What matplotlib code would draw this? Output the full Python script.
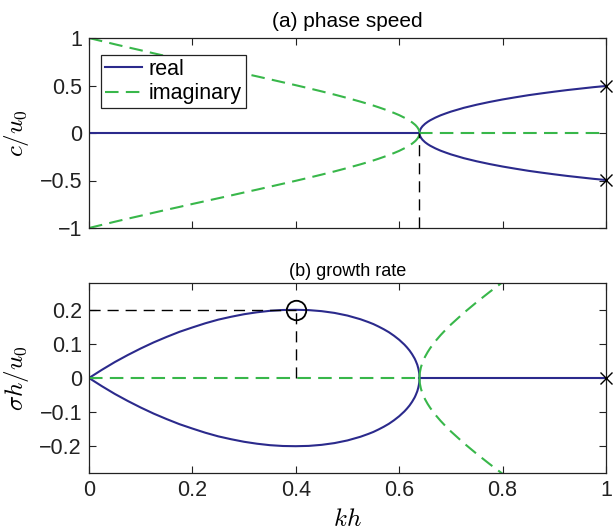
import matplotlib
matplotlib.use("Agg")
import matplotlib.pyplot as plt

plt.rcParams['font.family'] = ['Liberation Sans', 'DejaVu Sans']
plt.rcParams['mathtext.fontset'] = 'cm'

# unstable branch (kh below critical)
kh_u = [0, 0.025, 0.05, 0.075, 0.1, 0.125, 0.15, 0.175, 0.2, 0.225,
        0.25, 0.275, 0.3, 0.325, 0.35, 0.375, 0.4, 0.425, 0.45, 0.475,
        0.5, 0.525, 0.54, 0.55, 0.56, 0.57, 0.58, 0.59, 0.6, 0.61,
        0.615, 0.62, 0.625, 0.63, 0.632, 0.635, 0.637, 0.638, 0.6388, 0.639,
        0.6392]
ci_u = [1.0, 0.967, 0.934, 0.902, 0.871, 0.839, 0.808, 0.778, 0.747, 0.717,
        0.687, 0.657, 0.626, 0.596, 0.565, 0.534, 0.503, 0.471, 0.438, 0.404,
        0.368, 0.330, 0.306, 0.289, 0.271, 0.252, 0.232, 0.211, 0.188, 0.161,
        0.147, 0.130, 0.112, 0.090, 0.080, 0.061, 0.044, 0.033, 0.019, 0.014,
        0.0]
sig_u = [0.0, 0.0242, 0.047, 0.0677, 0.087, 0.1049, 0.121, 0.1361, 0.149, 0.1613,
         0.172, 0.1805, 0.188, 0.1937, 0.198, 0.2004, 0.201, 0.2001, 0.197, 0.1918,
         0.184, 0.1732, 0.1650, 0.159, 0.1517, 0.1438, 0.135, 0.1245, 0.1126, 0.0985,
         0.0902, 0.081, 0.070, 0.057, 0.0503, 0.039, 0.028, 0.0209, 0.0124, 0.009,
         0.0]

# stable branch (kh above critical)
kh_s = [0.6392, 0.6395, 0.6398, 0.64, 0.642, 0.645, 0.65, 0.655, 0.66, 0.67,
        0.68, 0.69, 0.7, 0.725, 0.75, 0.775, 0.8, 0.825, 0.85, 0.875,
        0.9, 0.925, 0.95, 0.975, 1.0]
cr_s = [0.0, 0.015, 0.022, 0.026, 0.049, 0.071, 0.097, 0.117, 0.134, 0.162,
        0.186, 0.206, 0.225, 0.265, 0.298, 0.327, 0.353, 0.376, 0.398, 0.417,
        0.435, 0.452, 0.467, 0.482, 0.495]
sigi_s = [0.0, 0.0098, 0.0142, 0.0166, 0.0315, 0.0456, 0.0627, 0.0763, 0.0881, 0.1085,
          0.1262, 0.1424, 0.1575, 0.1920, 0.2237, 0.2537, 0.2825, 0.3105, 0.3379, 0.3648,
          0.3914, 0.4177, 0.4437, 0.4696, 0.4955]

kh_crit = 0.6392
kh_max = 0.4
sig_max = 0.2

blue = '#2b2a8c'
green = '#38b74a'
lw = 1.5
dash = (0, (6.5, 3.5))
kdash = (0, (8, 5))
klw = 1.0

fig = plt.figure(figsize=(6.13, 5.32), dpi=100)
L, R = 89, 606
ax1 = fig.add_axes([L/613, 1 - 228/532, (R - L)/613, 190/532])
ax2 = fig.add_axes([L/613, 1 - 473/532, (R - L)/613, 190/532])

neg = lambda a: [-v for v in a]

# (a)
ax1.plot([0, kh_crit], [0, 0], color=blue, lw=lw, label='real')
ax1.plot(kh_s, cr_s, color=blue, lw=lw)
ax1.plot(kh_s, neg(cr_s), color=blue, lw=lw)
ax1.plot(kh_u, ci_u, color=green, lw=lw, ls=dash, label='imaginary')
ax1.plot(kh_u, neg(ci_u), color=green, lw=lw, ls=dash)
ax1.plot([kh_crit, 1], [0, 0], color=green, lw=lw, ls=dash)
ax1.plot([kh_crit, kh_crit], [-1, 0], color='k', lw=klw, ls=kdash)
ax1.plot([1, 1], [cr_s[-1], -cr_s[-1]], ls='none', marker='x', color='k',
         ms=9, mew=1.0, clip_on=False, zorder=5)
ax1.set_xlim(0, 1)
ax1.set_ylim(-1, 1)
ax1.set_yticks([-1, -0.5, 0, 0.5, 1])
ax1.set_yticklabels(['\u22121', '\u22120.5', '0', '0.5', '1'])
ax1.set_xticks([0, 0.2, 0.4, 0.6, 0.8, 1])
ax1.set_xticklabels([])
ax1.set_ylabel('$c/u_0$', fontsize=18, labelpad=6)
ax1.set_title('(a) phase speed', fontsize=15, pad=8)
leg = ax1.legend(loc='upper left', bbox_to_anchor=(0.0, 0.975), fontsize=15.5,
                 fancybox=False, framealpha=1, edgecolor='#222222', handlelength=1.7,
                 borderpad=0.2, labelspacing=0.15, handletextpad=0.3,
                 borderaxespad=0.55)
leg.get_frame().set_linewidth(0.9)

# (b)
ax2.plot(kh_u, sig_u, color=blue, lw=lw)
ax2.plot(kh_u, neg(sig_u), color=blue, lw=lw)
ax2.plot([kh_crit, 1], [0, 0], color=blue, lw=lw)
ax2.plot([0, kh_crit], [0, 0], color=green, lw=lw, ls=dash)
ax2.plot(kh_s, sigi_s, color=green, lw=lw, ls=dash)
ax2.plot(kh_s, neg(sigi_s), color=green, lw=lw, ls=dash)
ax2.plot([0, kh_max], [sig_max, sig_max], color='k', lw=klw, ls=kdash)
ax2.plot([kh_max, kh_max], [0, sig_max], color='k', lw=klw, ls=kdash)
ax2.plot([kh_max], [sig_max], marker='o', mfc='none', mec='k', ms=14, mew=1.3)
ax2.plot([1], [0], ls='none', marker='x', color='k', ms=9, mew=1.0,
         clip_on=False, zorder=5)
ax2.set_xlim(0, 1)
ax2.set_ylim(-0.28, 0.28)
ax2.set_yticks([-0.2, -0.1, 0, 0.1, 0.2])
ax2.set_yticklabels(['\u22120.2', '\u22120.1', '0', '0.1', '0.2'])
ax2.set_xticks([0, 0.2, 0.4, 0.6, 0.8, 1])
ax2.set_xticklabels(['0', '0.2', '0.4', '0.6', '0.8', '1'])
ax2.set_ylabel('$\\sigma h/u_0$', fontsize=18, labelpad=6)
ax2.set_xlabel('$kh$', fontsize=18, labelpad=4)
ax2.set_title('(b) growth rate', fontsize=13, pad=5)

for ax in (ax1, ax2):
    ax.tick_params(direction='in', top=True, right=True, labelsize=15.5,
                   length=5, width=0.8, colors='#222222', labelcolor='#222222',
                   pad=5)
    for s in ax.spines.values():
        s.set_linewidth(0.9)
        s.set_color('#222222')

fig.savefig('out.png', dpi=100)
